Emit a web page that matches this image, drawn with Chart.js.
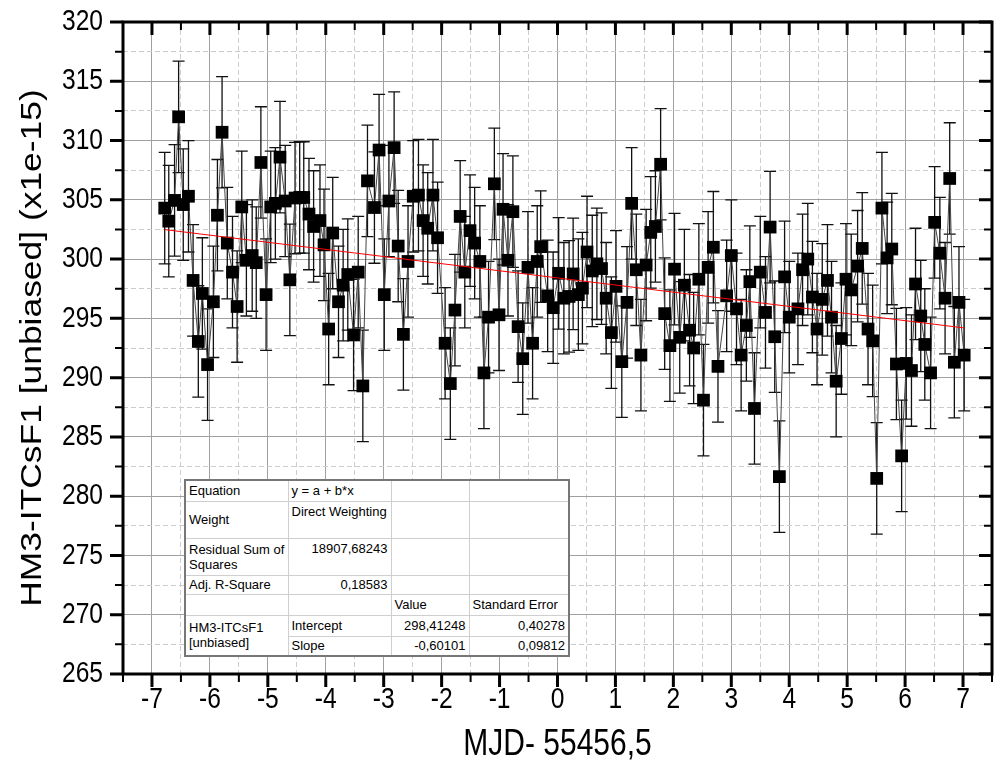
<!DOCTYPE html>
<html lang="en">
<head>
<meta charset="UTF-8">
<title>HM3-ITCsF1 [unbiased] vs MJD</title>
<script src="https://cdn.jsdelivr.net/npm/chart.js"></script>
<style>
  body { margin: 0; background: #fff; }
  #wrap { position: relative; width: 1001px; height: 771px; }
  #fit {
    position: absolute; left: 184px; top: 479px;
    width: 386px; border-collapse: collapse; table-layout: fixed;
    background: #fff; border: 2px solid #777;
    font: 13px Arial, "Liberation Sans", sans-serif; color: #000;
  }
  #fit td {
    border: 1px solid #cfcfcf; padding: 0 3px;
    white-space: nowrap; overflow: hidden; line-height: 15px;
  }
  #fit td.r { text-align: right; }
  #fit td.t { vertical-align: top; padding-top: 2px; }
</style>
</head>
<body>
<div id="wrap">
  <canvas id="chart" width="1001" height="771"></canvas>
  <table id="fit">
    <colgroup><col style="width:103px"><col style="width:103px"><col style="width:78px"><col style="width:100px"></colgroup>
    <tr style="height:21px"><td>Equation</td><td>y = a + b*x</td><td></td><td></td></tr>
    <tr style="height:37px"><td>Weight</td><td class="t">Direct Weighting</td><td></td><td></td></tr>
    <tr style="height:37px"><td>Residual Sum of<br>Squares</td><td class="r t">18907,68243</td><td></td><td></td></tr>
    <tr style="height:19px"><td>Adj. R-Square</td><td class="r">0,18583</td><td></td><td></td></tr>
    <tr style="height:21px"><td></td><td></td><td>Value</td><td>Standard Error</td></tr>
    <tr style="height:21px"><td rowspan="2">HM3-ITCsF1<br>[unbiased]</td><td>Intercept</td><td class="r">298,41248</td><td class="r">0,40278</td></tr>
    <tr style="height:20px"><td>Slope</td><td class="r">-0,60101</td><td class="r">0,09812</td></tr>
  </table>
</div>
<script>
  // MJD - 55456,5 (days)
  const mjd = [
    -6.78, -6.71, -6.61, -6.54, -6.46, -6.37, -6.29, -6.20, -6.13, -6.04,
    -5.94, -5.87, -5.79, -5.70, -5.61, -5.53, -5.45, -5.37, -5.27, -5.20,
    -5.12, -5.03, -4.95, -4.87, -4.79, -4.70, -4.62, -4.53, -4.45, -4.38,
    -4.29, -4.21, -4.10, -4.03, -3.95, -3.88, -3.78, -3.70, -3.62, -3.52,
    -3.44, -3.36, -3.28, -3.16, -3.08, -2.99, -2.91, -2.82, -2.75, -2.66,
    -2.58, -2.49, -2.40, -2.32, -2.24, -2.15, -2.07, -1.94, -1.85, -1.77,
    -1.68, -1.60, -1.51, -1.43, -1.34, -1.27, -1.19, -1.09, -1.01, -0.94,
    -0.855, -0.77, -0.68, -0.60, -0.51, -0.43, -0.35, -0.29, -0.17, -0.075,
    0.02, 0.11, 0.20, 0.27, 0.36, 0.43, 0.51, 0.60, 0.68, 0.76,
    0.84, 0.93, 1.01, 1.11, 1.20, 1.28, 1.36, 1.44, 1.53, 1.61,
    1.69, 1.78, 1.85, 1.94, 2.02, 2.11, 2.19, 2.28, 2.35, 2.44,
    2.52, 2.60, 2.69, 2.77, 2.92, 3.00, 3.09, 3.17, 3.26, 3.32,
    3.40, 3.50, 3.59, 3.67, 3.75, 3.83, 3.92, 4.00, 4.15, 4.23,
    4.32, 4.40, 4.48, 4.57, 4.66, 4.73, 4.81, 4.90, 4.98, 5.07,
    5.18, 5.26, 5.36, 5.44, 5.51, 5.60, 5.69, 5.77, 5.85, 5.94,
    6.02, 6.11, 6.18, 6.27, 6.34, 6.44, 6.51, 6.60, 6.69, 6.77,
    6.85, 6.93, 7.02
  ];
  // HM3-ITCsF1 [unbiased] (x1e-15)
  const hm3 = [
    304.3, 303.2, 304.95, 312.0, 304.6, 305.3, 298.2, 293.05, 297.1, 291.1,
    296.4, 303.7, 310.7, 301.35, 298.9, 296.0, 304.4, 299.9, 300.3, 299.7,
    308.15, 297.0, 304.4, 304.7, 308.6, 304.9, 298.25, 305.15, 305.2, 305.2,
    303.8, 302.75, 303.25, 301.2, 294.1, 302.2, 296.4, 297.8, 298.7, 293.6,
    298.9, 289.3, 306.6, 304.35, 309.2, 297.0, 304.9, 309.4, 301.1, 293.65,
    299.8, 305.3, 305.4, 303.25, 302.6, 305.4, 301.8, 292.9, 289.5, 295.7,
    303.6, 298.9, 302.4, 301.35, 299.8, 290.4, 295.1, 306.35, 295.3, 304.2,
    299.9, 304.0, 294.3, 291.6, 299.3, 292.9, 299.8, 301.05, 296.9, 295.9,
    298.8, 296.7, 296.85, 298.75, 297.0, 297.55, 300.6, 299.0, 299.6, 299.2,
    296.7, 293.8, 297.7, 291.35, 296.35, 304.7, 299.1, 291.9, 299.5, 302.25,
    302.75, 308.0, 295.4, 292.7, 299.15, 293.4, 297.8, 294.0, 292.5, 298.3,
    288.1, 299.3, 301.0, 290.95, 296.9, 300.3, 295.8, 291.9, 294.4, 298.1,
    287.4, 298.9, 295.5, 302.7, 293.45, 281.65, 298.5, 295.1, 295.8, 299.1,
    300.0, 296.8, 294.1, 296.6, 298.2, 295.1, 289.7, 293.3, 298.3, 297.4,
    299.4, 300.9, 294.1, 293.1, 281.5, 304.3, 300.1, 300.85, 291.15, 283.4,
    291.2, 290.6, 297.9, 295.2, 292.8, 290.4, 303.1, 300.5, 296.7, 306.8,
    291.3, 296.35, 291.9
  ];
  const errBar = 4.7;

  // linear fit y = a + b*x (from the fit table)
  const fitA = 298.41248;
  const fitB = -0.60101;

  const xMin = -7.5, xMax = 7.5, xStep = 0.5;
  const yMin = 265, yMax = 320, yStep = 2.5;
  const xTitle = 'MJD- 55456,5';
  const yTitle = 'HM3-ITCsF1 [unbiased] (x1e-15)';

  const FONT = '"Liberation Sans", Arial, sans-serif';
  const STRETCH = 1.2; // the original picture is stretched vertically

  const isMajorX = v => Math.abs(v - Math.round(v)) < 1e-6;
  const isMajorY = v => Math.abs(v / 5 - Math.round(v / 5)) < 1e-6;

  const points = mjd.map((t, i) => ({ x: t, y: hm3[i] }));
  const x0 = mjd[0], x1 = mjd[mjd.length - 1];
  const fitLine = [{ x: x0, y: fitA + fitB * x0 }, { x: x1, y: fitA + fitB * x1 }];

  // text drawn tall and narrow like the original
  function tallText(ctx, text, x, y, size, align, vertical) {
    ctx.save();
    ctx.translate(x, y);
    if (vertical) {
      ctx.rotate(-Math.PI / 2);
      ctx.scale(STRETCH, 1);
      ctx.font = size + 'px ' + FONT;
    } else {
      ctx.scale(1 / STRETCH, 1);
      ctx.font = (size * STRETCH) + 'px ' + FONT;
    }
    ctx.fillStyle = '#000';
    ctx.textAlign = align;
    ctx.textBaseline = 'middle';
    ctx.fillText(text, 0, 0);
    ctx.restore();
  }

  const errorBars = {
    id: 'errorBars',
    beforeDatasetsDraw(chart) {
      const { ctx, scales: { x, y } } = chart;
      ctx.save();
      ctx.strokeStyle = '#111';
      ctx.lineWidth = 1.3;
      mjd.forEach((t, i) => {
        const px = x.getPixelForValue(t);
        const top = y.getPixelForValue(hm3[i] + errBar);
        const bot = y.getPixelForValue(hm3[i] - errBar);
        ctx.beginPath();
        ctx.moveTo(px, top); ctx.lineTo(px, bot);
        ctx.moveTo(px - 6, top); ctx.lineTo(px + 6, top);
        ctx.moveTo(px - 6, bot); ctx.lineTo(px + 6, bot);
        ctx.stroke();
      });
      ctx.restore();
    }
  };

  const frame = {
    id: 'frame',
    afterDatasetsDraw(chart) {
      const { ctx, chartArea: a, scales: { x, y } } = chart;
      ctx.save();
      ctx.strokeStyle = '#000';
      x.ticks.forEach(t => {
        const major = isMajorX(t.value);
        const px = x.getPixelForValue(t.value);
        const len = major ? 13 : 8;
        ctx.lineWidth = major ? 3 : 2;
        ctx.beginPath();
        ctx.moveTo(px, a.bottom); ctx.lineTo(px, a.bottom + len);
        ctx.moveTo(px, a.top); ctx.lineTo(px, a.top + len);
        ctx.stroke();
      });
      y.ticks.forEach(t => {
        const major = isMajorY(t.value);
        const py = y.getPixelForValue(t.value);
        const len = major ? 13 : 8;
        ctx.lineWidth = major ? 3 : 2;
        ctx.beginPath();
        ctx.moveTo(a.left, py); ctx.lineTo(a.left - len, py);
        ctx.moveTo(a.right, py); ctx.lineTo(a.right - len, py);
        ctx.stroke();
      });
      ctx.lineWidth = 3;
      ctx.strokeRect(a.left, a.top, a.right - a.left, a.bottom - a.top);
      ctx.restore();
    },
    afterDraw(chart) {
      const { ctx, chartArea: a, scales: { x, y } } = chart;
      x.ticks.forEach(t => {
        if (!isMajorX(t.value)) return;
        tallText(ctx, String(Math.round(t.value)), x.getPixelForValue(t.value), a.bottom + 26, 24.6, 'center', false);
      });
      y.ticks.forEach(t => {
        if (!isMajorY(t.value)) return;
        tallText(ctx, String(Math.round(t.value)), a.left - 20, y.getPixelForValue(t.value), 24.6, 'right', false);
      });
      tallText(ctx, xTitle, (a.left + a.right) / 2, 745, 30, 'center', false);
      tallText(ctx, yTitle, 33, (a.top + a.bottom) / 2, 29.5, 'center', true);
    }
  };

  new Chart(document.getElementById('chart'), {
    type: 'scatter',
    data: {
      datasets: [
        {
          label: 'Linear Fit',
          data: fitLine,
          showLine: true,
          borderColor: '#ff0000',
          borderWidth: 1,
          pointRadius: 0
        },
        {
          label: 'HM3-ITCsF1 [unbiased]',
          data: points,
          showLine: true,
          borderColor: '#444',
          borderWidth: 1,
          tension: 0,
          pointStyle: 'rect',
          pointRadius: 9,
          pointBackgroundColor: '#000',
          pointBorderColor: '#000',
          pointBorderWidth: 0
        }
      ]
    },
    options: {
      responsive: false,
      animation: false,
      layout: { padding: { top: 22, right: 2, left: 0, bottom: 0 } },
      plugins: { legend: { display: false }, tooltip: { enabled: false } },
      scales: {
        x: {
          type: 'linear', min: xMin, max: xMax,
          afterFit: s => { s.height = 97; s.paddingLeft = 0; s.paddingRight = 0; },
          ticks: { display: false, stepSize: xStep, autoSkip: false, maxRotation: 0 },
          grid: {
            drawTicks: false,
            color: c => (c.tick && isMajorX(c.tick.value)) ? '#a0a0a0' : '#cccccc',
            lineWidth: 1
          },
          border: {
            display: false,
            dash: c => (c.tick && !isMajorX(c.tick.value)) ? [5, 3] : []
          },
          title: { display: false, text: xTitle }
        },
        y: {
          type: 'linear', min: yMin, max: yMax,
          afterFit: s => { s.width = 123; s.paddingTop = 0; s.paddingBottom = 0; },
          ticks: { display: false, stepSize: yStep, autoSkip: false },
          grid: {
            drawTicks: false,
            color: c => (c.tick && isMajorY(c.tick.value)) ? '#a0a0a0' : '#cccccc',
            lineWidth: 1
          },
          border: {
            display: false,
            dash: c => (c.tick && !isMajorY(c.tick.value)) ? [5, 3] : []
          },
          title: { display: false, text: yTitle }
        }
      }
    },
    plugins: [errorBars, frame]
  });
</script>
</body>
</html>
